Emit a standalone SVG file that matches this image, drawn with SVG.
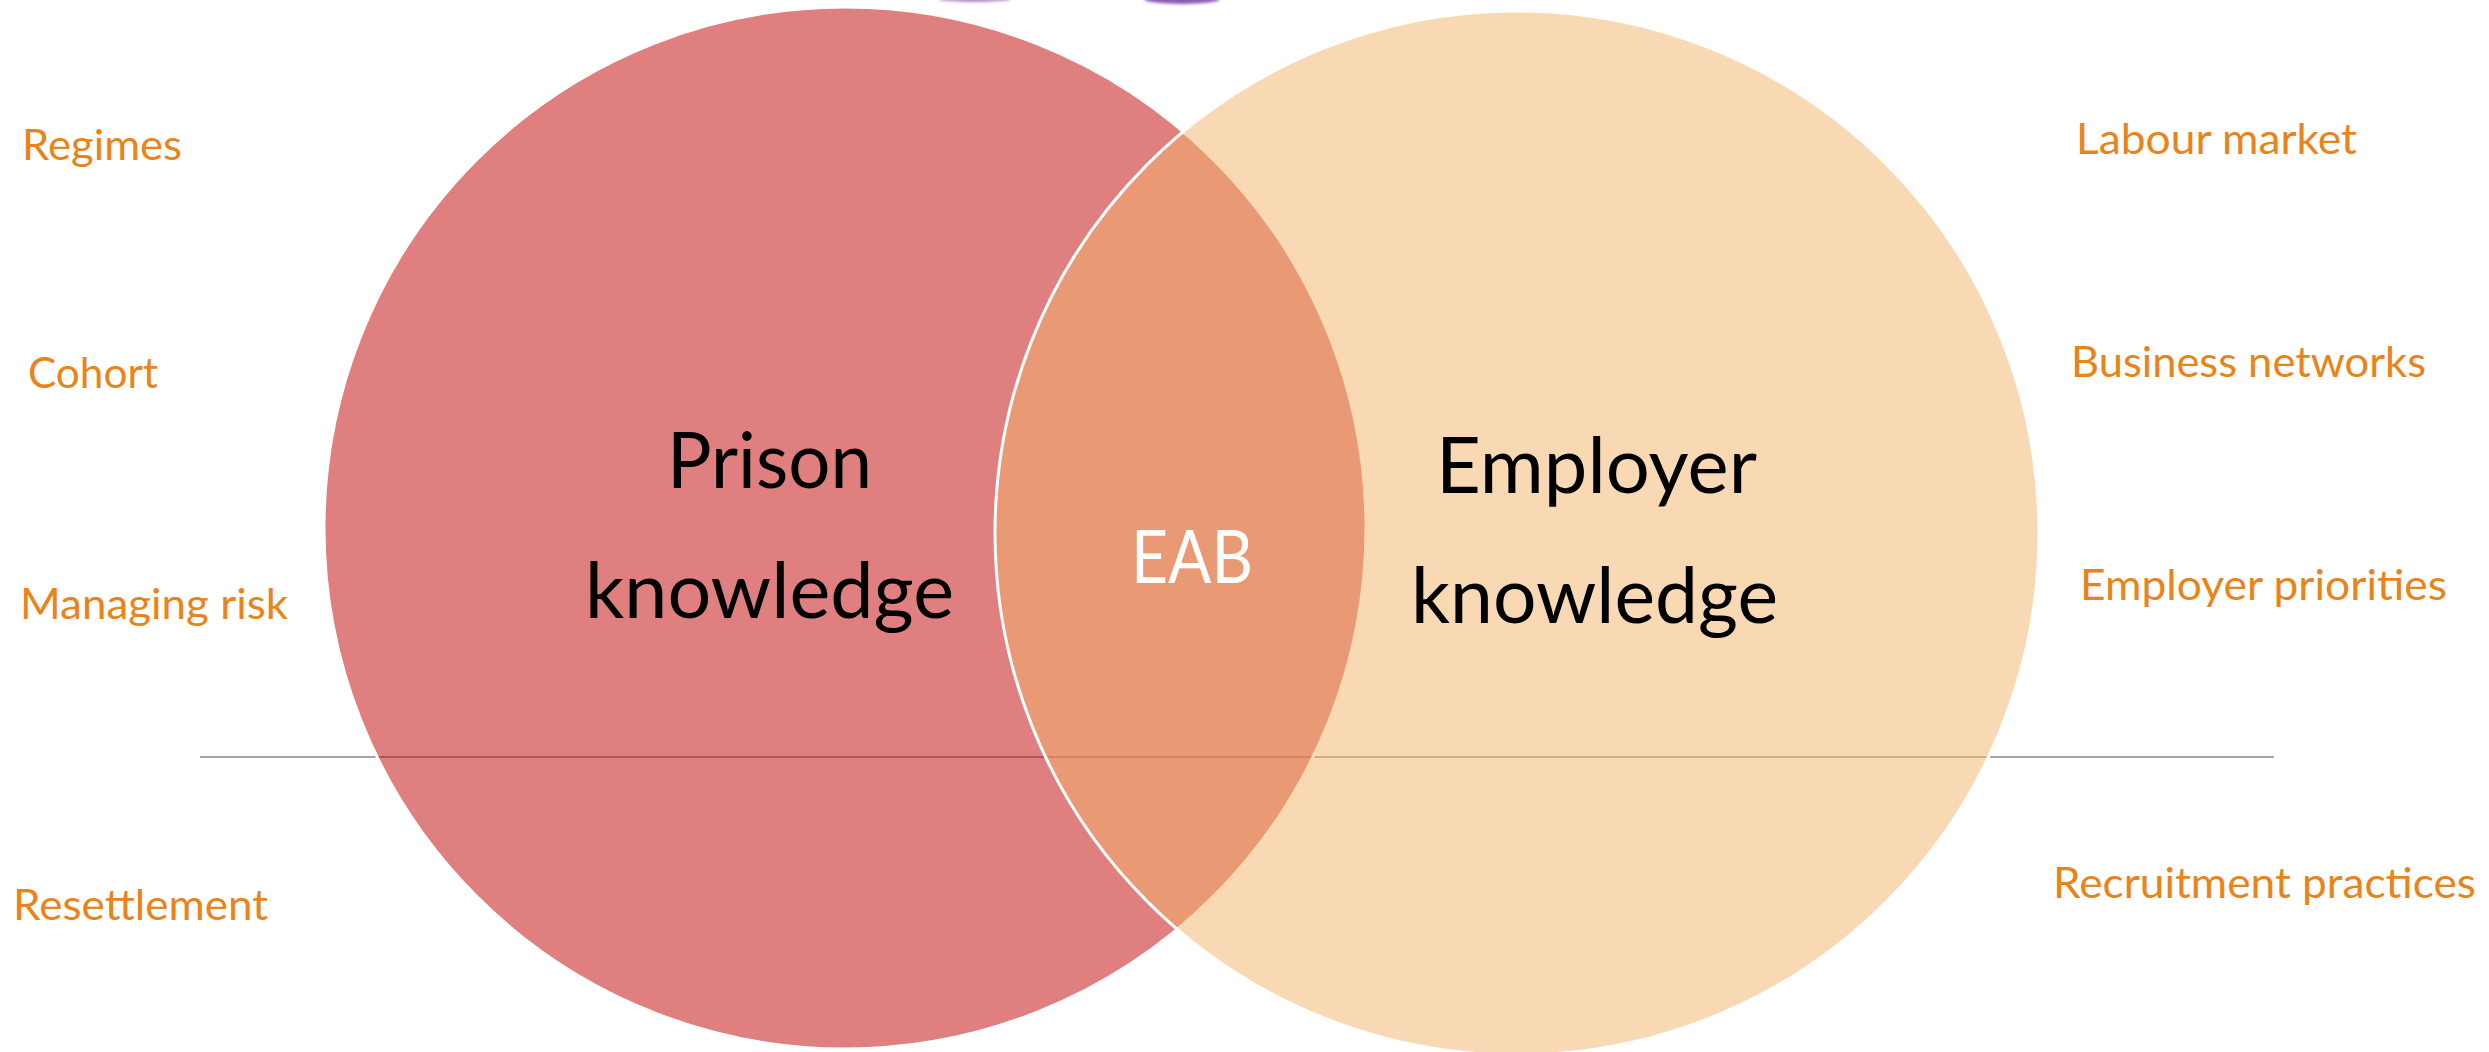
<svg xmlns="http://www.w3.org/2000/svg" width="2489" height="1052" viewBox="0 0 2489 1052">
  <defs>
    <style>
      .lbl { font-family: Lato, "Open Sans", "Liberation Sans", sans-serif; font-size: 42px; fill: #E8841A; }
      .main { font-family: Lato, "Open Sans", "Liberation Sans", sans-serif; font-size: 77px; fill: #000000; }
      .eab { font-family: Lato, "Open Sans", "Liberation Sans", sans-serif; font-size: 73px; fill: #FFFFFF; }
      .circle { stroke: #FFFFFF; stroke-width: 3; fill-opacity: 0.5; }
    </style>
    <filter id="blur" x="-50%" y="-200%" width="200%" height="500%">
      <feGaussianBlur stdDeviation="1.5"/>
    </filter>
  </defs>
  <rect width="2489" height="1052" fill="#FFFFFF"/>

  <g id="marks" filter="url(#blur)">
    <ellipse cx="975" cy="-1" rx="36" ry="3" fill="#7030A0" opacity="0.55"/>
    <ellipse cx="1182" cy="-1" rx="38" ry="5" fill="#7030A0" opacity="0.8"/>
  </g>

  <g id="connectors">
    <line x1="200" y1="757" x2="2274" y2="757" stroke="#A6A6A6" stroke-width="2"/>
  </g>

  <g id="prison-circle">
    <circle class="circle" cx="845" cy="528" r="521" fill="#C00000"/>
  </g>
  <g id="employer-circle">
    <circle class="circle" cx="1517" cy="533" r="522" fill="#F4B469"/>
  </g>

  <g id="prison-label">
    <text class="main" x="667" y="488" textLength="205" lengthAdjust="spacingAndGlyphs">Prison</text>
    <text class="main" x="585" y="618" textLength="369" lengthAdjust="spacingAndGlyphs">knowledge</text>
  </g>
  <g id="employer-label">
    <text class="main" x="1436" y="493" textLength="321" lengthAdjust="spacingAndGlyphs">Employer</text>
    <text class="main" x="1411" y="623" textLength="367" lengthAdjust="spacingAndGlyphs">knowledge</text>
  </g>
  <g id="eab-label">
    <text class="eab" x="1131" y="583" textLength="122" lengthAdjust="spacingAndGlyphs">EAB</text>
  </g>

  <g id="left-items">
    <g id="item-regimes"><text class="lbl" x="22" y="160" textLength="160" lengthAdjust="spacingAndGlyphs">Regimes</text></g>
    <g id="item-cohort"><text class="lbl" x="28" y="388" textLength="130" lengthAdjust="spacingAndGlyphs">Cohort</text></g>
    <g id="item-risk"><text class="lbl" x="20" y="619" textLength="268" lengthAdjust="spacingAndGlyphs">Managing risk</text></g>
    <g id="item-resettlement"><text class="lbl" x="13" y="920" textLength="255" lengthAdjust="spacingAndGlyphs">Resettlement</text></g>
  </g>
  <g id="right-items">
    <g id="item-labour"><text class="lbl" x="2076" y="154" textLength="281" lengthAdjust="spacingAndGlyphs">Labour market</text></g>
    <g id="item-business"><text class="lbl" x="2071" y="377" textLength="355" lengthAdjust="spacingAndGlyphs">Business networks</text></g>
    <g id="item-priorities"><text class="lbl" x="2080" y="600" textLength="367" lengthAdjust="spacingAndGlyphs">Employer priorities</text></g>
    <g id="item-recruitment"><text class="lbl" x="2053" y="898" textLength="423" lengthAdjust="spacingAndGlyphs">Recruitment practices</text></g>
  </g>
</svg>
